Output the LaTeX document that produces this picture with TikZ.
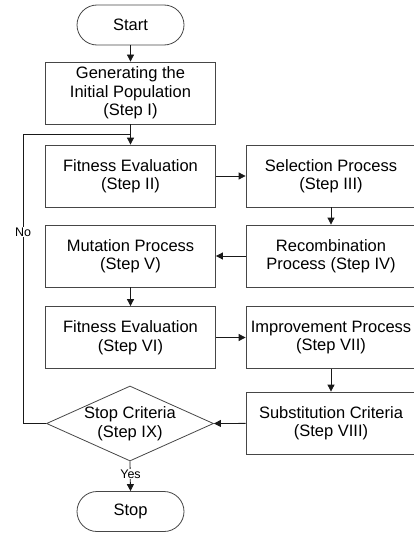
\documentclass[tikz,border=0pt]{standalone}
\usepackage{fontspec}
\setmainfont{Liberation Sans}
\usetikzlibrary{arrows.meta,shapes.geometric}
\definecolor{flowline}{RGB}{70,70,70}
\definecolor{flowedge}{RGB}{25,25,25}
\tikzset{
 stepbox/.style={draw=flowline,line width=.8pt,minimum width=170pt,minimum height=62pt,
  inner sep=0pt,align=center,font=\fontsize{16.5}{18.5}\selectfont},
 termbox/.style={draw=flowline,line width=.8pt,rounded corners=20pt,minimum width=107pt,
  minimum height=40pt,inner sep=0pt,font=\fontsize{16.5}{18.5}\selectfont},
 decbox/.style={draw=flowline,line width=.8pt,diamond,aspect=2.23,inner sep=-3pt,
  minimum width=167pt,minimum height=75pt,align=center,font=\fontsize{16.5}{18.5}\selectfont},
 flow/.style={draw=flowedge,line width=.8pt,-{Triangle[length=7pt,width=7pt]}},
 edgelbl/.style={fill=white,inner sep=1pt,font=\fontsize{12.5}{14}\selectfont}
}

\begin{document}
\begin{tikzpicture}[x=1pt,y=-1pt]
 \useasboundingbox (0,0) rectangle (413,535);
 \node[termbox] (start) at (130.5,25) {Start};
 \node[stepbox] (genpop) at (130.5,93) {Generating the\\Initial Population\\(Step I)};
 \node[stepbox] (fiteval) at (130.5,176) {Fitness Evaluation\\(Step II)};
 \node[stepbox] (select) at (331,176) {Selection Process\\(Step III)};
 \node[stepbox] (recomb) at (331,256) {Recombination\\Process (Step IV)};
 \node[stepbox] (mutate) at (130.5,256) {Mutation Process\\(Step V)};
 \node[stepbox] (fitevaltwo) at (130.5,337.5) {Fitness Evaluation\\(Step VI)};
 \node[stepbox] (improve) at (331,337.5) {Improvement Process\\(Step VII)};
 \node[stepbox] (subst) at (331,423) {Substitution Criteria\\(Step VIII)};
 \node[decbox] (crit) at (130,423.5) {Stop Criteria\\(Step IX)};
 \node[termbox] (stop) at (130.5,511.5) {Stop};
 \coordinate (merge) at (130.5,134);
 \coordinate (back) at (23,134);

 \draw[flow] (start) -- (genpop);
 \draw[flow] (genpop) -- (fiteval);
 \draw[flow] (fiteval) -- (select);
 \draw[flow] (select) -- (recomb);
 \draw[flow] (recomb) -- (mutate);
 \draw[flow] (mutate) -- (fitevaltwo);
 \draw[flow] (fitevaltwo) -- (improve);
 \draw[flow] (improve) -- (subst);
 \draw[flow] (subst) -- (crit.east);
 \draw[flowedge,line width=.8pt] (crit.west) -| (back) -- (merge);
 \draw[flow] (crit.south) -- (stop.north);
 \node[edgelbl] (nolbl) at (23,232) {No};
 \node[edgelbl] (yeslbl) at (130.5,474) {Yes};
\end{tikzpicture}
\end{document}
